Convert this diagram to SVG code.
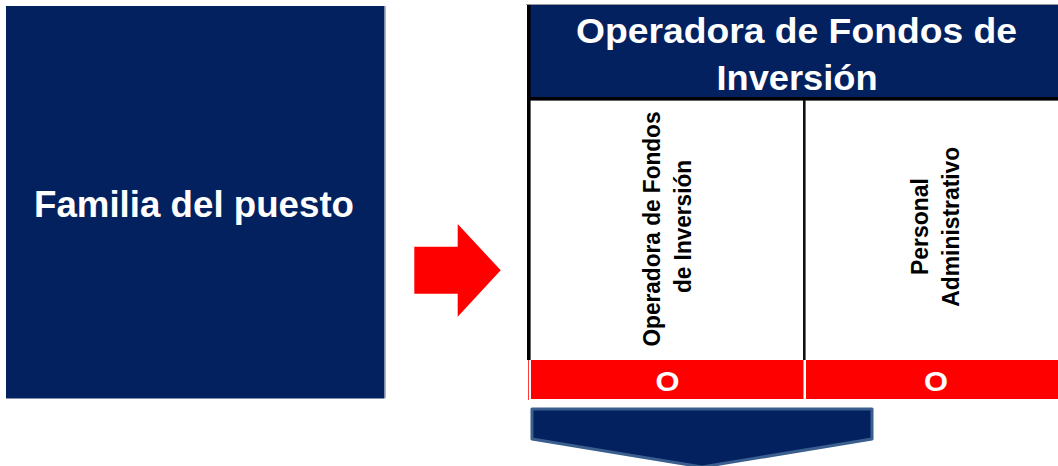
<svg xmlns="http://www.w3.org/2000/svg" width="1058" height="466" viewBox="0 0 1058 466">
  <style>
    .navy { fill: #03215f; }
    .red { fill: #ff0000; }
    .ink { fill: #000000; }
    .wt { font-family: "Liberation Sans", Arial, sans-serif; font-weight: bold; fill: #ffffff; }
    .bt { font-family: "Liberation Sans", Arial, sans-serif; font-weight: bold; fill: #000000; font-size: 23px; }
  </style>
  <rect width="1058" height="466" fill="#ffffff"/>

  <g id="familia">
    <rect class="navy" x="6" y="6" width="378.5" height="392.5"/>
    <line x1="385.5" y1="6" x2="385.5" y2="398" stroke="#a9b6d2" stroke-width="1"/>
    <text class="wt" x="194" y="217" font-size="37" text-anchor="middle" textLength="320" lengthAdjust="spacingAndGlyphs">Familia del puesto</text>
  </g>

  <g id="connectors">
    <path class="red" d="M414.3,246.7 L457.7,246.7 L457.7,224 L500.7,270.3 L457.7,316.7 L457.7,293.7 L414.3,293.7 Z"/>
    <path d="M532,409 L872,409 L872,439 L702,467 L532,439 Z" fill="#03215f" stroke="#3a5e8d" stroke-width="3" stroke-linejoin="round"/>
  </g>

  <g id="header">
    <line x1="526" y1="4.5" x2="1058" y2="4.5" stroke="#9a9a9a" stroke-width="1"/>
    <rect class="navy" x="530" y="5" width="528" height="92"/>
    <text class="wt" x="796.5" y="42.5" font-size="35.5" text-anchor="middle" textLength="441" lengthAdjust="spacingAndGlyphs">Operadora de Fondos de</text>
    <text class="wt" x="797" y="89.5" font-size="35.5" text-anchor="middle" textLength="161" lengthAdjust="spacingAndGlyphs">Inversión</text>
  </g>

  <g id="table-frame">
    <rect class="ink" x="527" y="5" width="3.6" height="355"/>
    <rect class="ink" x="527" y="97" width="531" height="3.6"/>
    <rect x="803" y="100" width="2.6" height="260" fill="#111111"/>
  </g>

  <g id="col-operadora">
    <text class="bt" transform="translate(660,229) rotate(-90)" text-anchor="middle" textLength="235" lengthAdjust="spacingAndGlyphs">Operadora de Fondos</text>
    <text class="bt" transform="translate(690.5,226.5) rotate(-90)" text-anchor="middle" textLength="133" lengthAdjust="spacingAndGlyphs">de Inversión</text>
  </g>

  <g id="col-personal">
    <text class="bt" transform="translate(928,226.5) rotate(-90)" text-anchor="middle" textLength="97" lengthAdjust="spacingAndGlyphs">Personal</text>
    <text class="bt" transform="translate(958.5,226.7) rotate(-90)" text-anchor="middle" textLength="160" lengthAdjust="spacingAndGlyphs">Administrativo</text>
  </g>

  <g id="cell-o-1">
    <line x1="528.5" y1="360" x2="528.5" y2="400" stroke="#ff3a3a" stroke-width="1"/>
    <rect class="red" x="531" y="360" width="272.5" height="39"/>
    <text class="wt" x="667.5" y="390.5" font-size="27.5" text-anchor="middle" textLength="24" lengthAdjust="spacingAndGlyphs">O</text>
  </g>

  <g id="cell-o-2">
    <rect class="red" x="806" y="360" width="252" height="39"/>
    <text class="wt" x="936" y="390.5" font-size="27.5" text-anchor="middle" textLength="24" lengthAdjust="spacingAndGlyphs">O</text>
  </g>
</svg>
